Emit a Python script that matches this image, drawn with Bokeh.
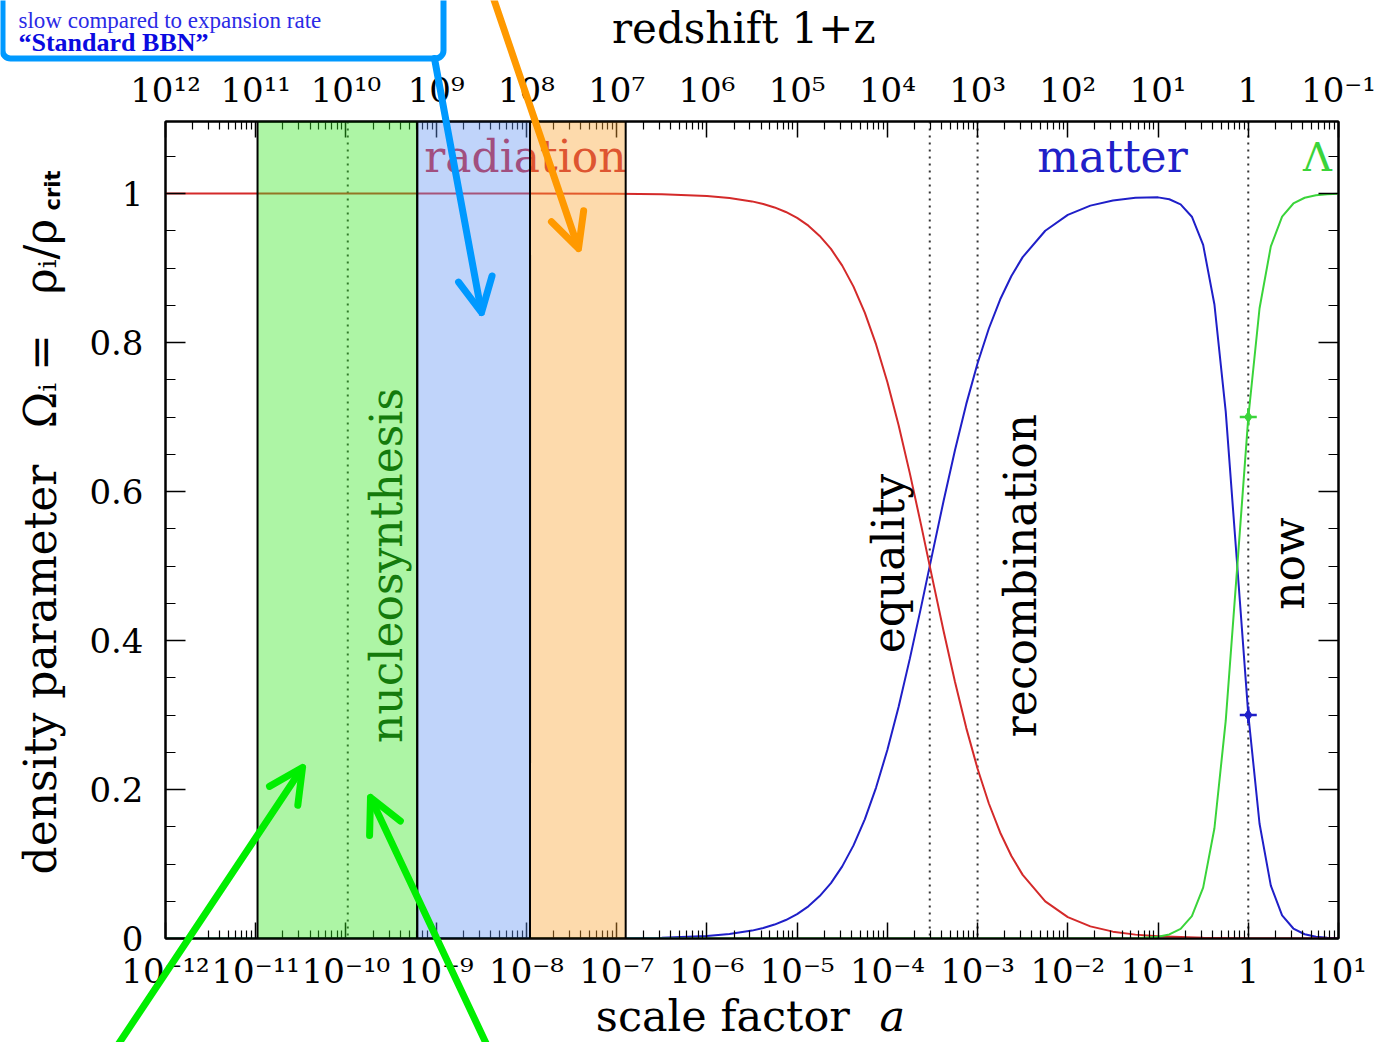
import math
from bokeh.plotting import figure
from bokeh.models import (LogAxis, LinearAxis, FixedTicker, Label, BoxAnnotation,
                          Span, Arrow, OpenHead, Range1d, CustomJSTickFormatter)
from bokeh.embed import file_html
from bokeh.resources import INLINE

# ---------------- data ----------------
rad_log_a = [-12, -8, -7, -6.5, -6, -5.75, -5.5, -5.375, -5.25, -5.125, -5, -4.875, -4.75,
             -4.625, -4.5, -4.375, -4.25, -4.125, -4, -3.875, -3.75, -3.625, -3.5, -3.375,
             -3.25, -3.125, -3, -2.875, -2.75, -2.625, -2.5, -2.25, -2, -1.75, -1.5, -1.25,
             -1, -0.5, 0, 0.5, 1]
rad_omega = [1.0, 1.0, 0.9997, 0.9989, 0.9966, 0.994, 0.9894, 0.9859, 0.9813, 0.9752, 0.9672,
             0.9568, 0.9431, 0.9256, 0.9032, 0.875, 0.840, 0.7974, 0.747, 0.6888, 0.624,
             0.5545, 0.4827, 0.4117, 0.3442, 0.2824, 0.2279, 0.1812, 0.1423, 0.1107, 0.0854,
             0.0499, 0.0287, 0.0163, 0.0092, 0.0052, 0.0029, 0.0009, 0.0001, 0.0, 0.0]

mat_log_a = [-12, -8, -7, -6.5, -6, -5.75, -5.5, -5.375, -5.25, -5.125, -5, -4.875, -4.75,
             -4.625, -4.5, -4.375, -4.25, -4.125, -4, -3.875, -3.75, -3.625, -3.5, -3.375,
             -3.25, -3.125, -3, -2.875, -2.75, -2.625, -2.5, -2.25, -2, -1.75, -1.5, -1.25,
             -1, -0.875, -0.75, -0.625, -0.5, -0.375, -0.25, -0.125, 0, 0.125, 0.25, 0.375,
             0.5, 0.625, 0.75, 0.875, 1]
mat_omega = [0.0, 0.0, 0.0003, 0.0011, 0.0034, 0.006, 0.0106, 0.0141, 0.0187, 0.0248, 0.0328,
             0.0432, 0.0569, 0.0744, 0.0968, 0.125, 0.160, 0.2026, 0.253, 0.3112, 0.376,
             0.4455, 0.5173, 0.5883, 0.6558, 0.7176, 0.7721, 0.8188, 0.8577, 0.8893, 0.9146,
             0.950, 0.9713, 0.9837, 0.9907, 0.9944, 0.9948, 0.9923, 0.9855, 0.9688, 0.931,
             0.851, 0.7075, 0.505, 0.301, 0.154, 0.071, 0.031, 0.0134, 0.0057, 0.0024,
             0.001, 0.0004]

lam_log_a = [-12, -1.5, -1.25, -1, -0.875, -0.75, -0.625, -0.5, -0.375, -0.25, -0.125, 0,
             0.125, 0.25, 0.375, 0.5, 0.625, 0.75, 0.875, 1]
lam_omega = [0.0, 0.0001, 0.0004, 0.0023, 0.0055, 0.0129, 0.030, 0.0683, 0.148, 0.292, 0.4945,
             0.699, 0.846, 0.929, 0.969, 0.9866, 0.9943, 0.9976, 0.999, 0.9996]

today_a = [1.0]
today_matter = [0.3]
today_lambda = [0.7]

# shaded epochs (log10 a edges)
band_green = (-10.98, -9.21)
band_blue = (-9.21, -7.96)
band_orange = (-7.96, -6.90)

# dotted epoch markers (log10 a)
event_log_a = [-9.98, -3.53, -3.0, 0.0]

x_tick_exps = list(range(-12, 2))
x_bottom_labels = ["10⁻¹²", "10⁻¹¹", "10⁻¹⁰", "10⁻⁹", "10⁻⁸", "10⁻⁷", "10⁻⁶", "10⁻⁵",
                   "10⁻⁴", "10⁻³", "10⁻²", "10⁻¹", "1", "10¹"]
x_top_labels = ["10¹²", "10¹¹", "10¹⁰", "10⁹", "10⁸", "10⁷", "10⁶", "10⁵", "10⁴", "10³",
                "10²", "10¹", "1", "10⁻¹"]
y_ticks = [0, 0.2, 0.4, 0.6, 0.8, 1.0]
y_labels = ["0", "0.2", "0.4", "0.6", "0.8", "1"]

# ---------------- layout ----------------
W, H = 1383, 1042
FL, FR, FT, FB = 165, 1338, 121, 938
Y_MAX = (FB - FT) / 745.0
SERIF = "DejaVu Serif"

RED = "#d42a2a"
BLUE = "#1f1fc8"
GREEN = "#3ad43a"


def dx(px):
    return 10 ** (-12 + (px - FL) * 13.0 / (FR - FL))


def dy(py):
    return (FB - py) / (FB - FT) * Y_MAX


p = figure(width=W, height=H, x_axis_type="log",
           x_range=Range1d(1e-12, 10.0), y_range=Range1d(0, Y_MAX),
           output_backend="svg", toolbar_location=None,
           min_border_left=FL, min_border_right=W - FR,
           min_border_top=FT, min_border_bottom=H - FB)
p.xgrid.visible = False
p.ygrid.visible = False
p.outline_line_color = "black"
p.outline_line_width = 2
p.background_fill_color = "white"
p.border_fill_color = "white"

x_ticks = [10.0 ** e for e in x_tick_exps]
x_minor = [m * 10.0 ** e for e in range(-12, 1) for m in range(2, 10)]
xticker = FixedTicker(ticks=x_ticks, minor_ticks=x_minor)
yticker = FixedTicker(ticks=y_ticks, minor_ticks=[round(0.05 * k, 2) for k in range(0, 23)])


def style(ax):
    ax.major_tick_in = 16
    ax.major_tick_out = 0
    ax.minor_tick_in = 8
    ax.minor_tick_out = 0
    ax.axis_line_color = "black"
    ax.axis_line_width = 2
    ax.major_tick_line_width = 1.5
    ax.minor_tick_line_width = 1.2
    ax.major_label_text_font = SERIF
    ax.major_label_text_font_size = "34px"
    ax.major_label_text_color = "black"


xb = p.xaxis[0]
xb.ticker = xticker
xb.major_label_overrides = {t: s for t, s in zip(x_ticks, x_bottom_labels)}
xb.major_label_standoff = 12
style(xb)

xt = LogAxis(ticker=xticker, major_label_overrides={t: s for t, s in zip(x_ticks, x_top_labels)})
xt.major_label_standoff = 12
style(xt)
p.add_layout(xt, "above")

yl = p.yaxis[0]
yl.ticker = yticker
yl.major_label_overrides = {t: s for t, s in zip(y_ticks, y_labels)}
yl.major_label_standoff = 22
style(yl)
yl.major_tick_in = 20
yl.minor_tick_in = 10

yr = LinearAxis(ticker=yticker, formatter=CustomJSTickFormatter(code="return ''"))
style(yr)
yr.major_tick_in = 20
yr.minor_tick_in = 10
p.add_layout(yr, "right")

# dotted epoch lines
for la in event_log_a:
    p.add_layout(Span(location=10 ** la, dimension="height", line_color="#333333",
                      line_width=2, line_dash="2 5", level="underlay"))


def lab(fig, x, y, text, color="black", size="44px", angle=0.0, align="center", font=SERIF,
        style="normal", level="glyph", baseline="middle"):
    fig.add_layout(Label(x=x, y=y, text=text, text_color=color, text_font=font,
                         text_font_size=size, text_font_style=style, angle=angle,
                         text_align=align, text_baseline=baseline, level=level))


# in-plot labels (under the shaded bands)
lab(p, dx(525), dy(156), "radiation", color="#cc2233")
lab(p, dx(1112), dy(156), "matter", color="#2020c8")
lab(p, dx(1317), dy(156), "Λ", color=GREEN, size="40px")
lab(p, dx(888), dy(563), "equality", angle=math.pi / 2)
lab(p, dx(1020), dy(575), "recombination", angle=math.pi / 2)
lab(p, dx(1288), dy(563), "now", angle=math.pi / 2)
lab(p, dx(386), dy(565), "nucleosynthesis", color="#003300", angle=math.pi / 2)

# curves
p.line([10 ** v for v in mat_log_a], mat_omega, line_color=BLUE, line_width=2)
p.line([10 ** v for v in rad_log_a], rad_omega, line_color=RED, line_width=2)
p.line([10 ** v for v in lam_log_a], lam_omega, line_color=GREEN, line_width=2)
for yv, col in [(today_lambda, GREEN), (today_matter, BLUE)]:
    p.scatter(today_a, yv, marker="cross", size=17, line_color=col, line_width=2.5)
    p.scatter(today_a, yv, marker="diamond", size=11, fill_color=col, line_color=col)

# shaded bands (semi-transparent overlays)
for (lo, hi), col in [(band_green, "#32e61e"), (band_blue, "#6193f2"), (band_orange, "#faa22f")]:
    p.add_layout(BoxAnnotation(left=10 ** lo, right=10 ** hi, bottom=0, top=Y_MAX,
                               fill_color=col, fill_alpha=0.4, line_color="black",
                               line_alpha=1.0, line_width=2, level="annotation"))

# ---------------- transparent overlay covering the whole page ----------------
q = figure(width=W, height=H, x_range=Range1d(0, W), y_range=Range1d(H, 0),
           output_backend="svg", toolbar_location=None, min_border=0,
           min_border_left=0, min_border_right=0, min_border_top=0, min_border_bottom=0,
           x_axis_location=None, y_axis_location=None,
           styles={"position": "absolute", "top": "0px", "left": "0px"})
q.grid.visible = False
q.outline_line_color = None
q.background_fill_color = None
q.border_fill_color = None

# axis titles
lab(q, 750, 28, "redshift  1+z", size="42px", level="annotation")
lab(q, 863, 1015, "scale  factor", size="43px", align="right", level="annotation")
lab(q, 879, 1015, "a", size="43px", align="left", style="italic", level="annotation")
VA = math.pi / 2
lab(q, 40, 874, "density parameter", size="44px", angle=VA, align="left", level="annotation")
lab(q, 40, 405, "Ωᵢ", size="44px", angle=VA, level="annotation")
lab(q, 40, 352, "=", size="44px", angle=VA, level="annotation")
lab(q, 40, 256, "ρᵢ/ρ", size="44px", angle=VA, level="annotation")
lab(q, 52, 210, "crit", size="21px", angle=VA, align="left",
    font="DejaVu Sans", style="bold", level="annotation")

# annotation box (top-left)
q.add_layout(BoxAnnotation(left=2, right=443, top=-40, bottom=58,
                           fill_color="white", fill_alpha=1.0, line_color="#0099ff",
                           line_alpha=1.0, line_width=6, border_radius=8, level="annotation"))
lab(q, 18, 20, "slow compared to expansion rate", color="#2a2ae6", size="23px",
    align="left", font="Liberation Serif", level="annotation", baseline="alphabetic")
lab(q, 18, 42, "“Standard BBN”", color="#0a0ae0", size="26px", align="left",
    font="Liberation Serif", style="bold", level="annotation", baseline="alphabetic")


def arrow(x0, y0, x1, y1, color):
    q.add_layout(Arrow(x_start=x0, y_start=y0, x_end=x1, y_end=y1,
                       line_color=color, line_width=7, line_cap="round",
                       end=OpenHead(size=34, line_color=color, line_width=7,
                                    line_cap="round", line_join="round"),
                       level="overlay"))


arrow(434, 58, 481, 312, "#0099ff")
arrow(492, -5, 578, 248, "#ff9900")
arrow(115, 1048, 302, 767, "#00ee00")
arrow(488, 1048, 370, 797, "#00ee00")

open("out.html", "w").write(file_html([p, q], INLINE))
